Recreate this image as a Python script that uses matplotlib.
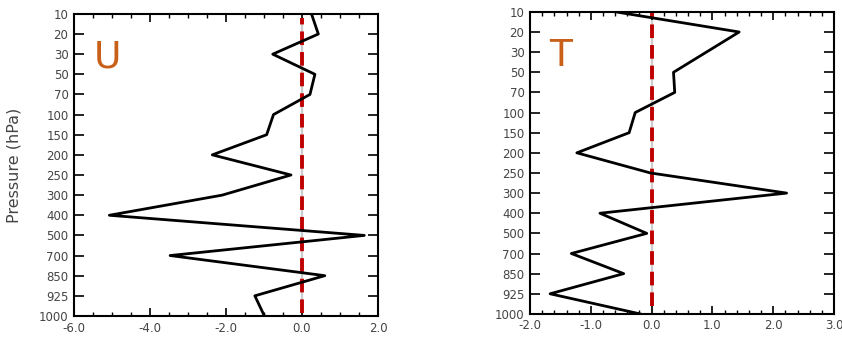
import numpy as np
import matplotlib
matplotlib.use('Agg')
import matplotlib.pyplot as plt
from matplotlib.ticker import MultipleLocator

# pressure levels (hPa), plotted on an evenly spaced index axis
levels = ['10', '20', '30', '50', '70', '100', '150', '200', '250', '300',
          '400', '500', '700', '850', '925', '1000']

# anomaly profiles
u_vals = [0.25, 0.43, -0.77, 0.34, 0.21, -0.75, -0.93, -2.36, -0.29, -2.1,
          -5.07, 1.64, -3.47, 0.6, -1.24, -0.99]
t_vals = [-0.59, 1.44, 0.9, 0.36, 0.38, -0.27, -0.37, -1.23, -0.02, 2.22,
          -0.85, -0.08, -1.32, -0.46, -1.67, -0.19]

tick_col = '#444444'
label_col = '#c8601a'


def draw_profile(ax, vals, xlim, xmajor, xminor, letter, dash_lim, letter_x):
    y = np.arange(len(levels))
    ax.axvline(0, color='#cccccc', lw=1.6, zorder=1)
    ax.axvline(0, color='#c00000', lw=2.8, dashes=(3.5, 1.8),
               ymin=dash_lim[0], ymax=dash_lim[1], zorder=2)
    ax.plot(vals, y, color='black', lw=2, zorder=3)
    ax.set_xlim(*xlim)
    ax.set_ylim(len(levels) - 1, 0)
    ax.set_yticks(y)
    ax.set_yticklabels(levels)
    ax.xaxis.set_major_locator(MultipleLocator(xmajor))
    ax.xaxis.set_minor_locator(MultipleLocator(xminor))
    ax.xaxis.set_major_formatter(plt.FormatStrFormatter('%.1f'))
    ax.tick_params(axis='x', which='major', direction='in', length=6,
                   width=1.2, top=True, bottom=True, labelsize=8.5,
                   labelcolor=tick_col, pad=4)
    ax.tick_params(axis='x', which='minor', direction='in', length=3,
                   width=1, top=True, bottom=True)
    ax.tick_params(axis='y', which='major', direction='in', length=7,
                   width=1.2, left=True, right=True, labelsize=8.5,
                   labelcolor=tick_col, pad=4)
    for s in ax.spines.values():
        s.set_linewidth(1.5)
    ax.text(letter_x, 0.915, letter, transform=ax.transAxes, color=label_col,
            fontsize=27, ha='left', va='top')


fig = plt.figure(figsize=(8.42, 3.39), dpi=100)
ax1 = fig.add_axes([0.0879, 0.068, 0.361, 0.891])
ax2 = fig.add_axes([0.6295, 0.074, 0.361, 0.891])

draw_profile(ax1, u_vals, (-6, 2), 2, 0.5, 'U', (0.01, 0.985), 0.065)
draw_profile(ax2, t_vals, (-2, 3), 1, 0.2, 'T', (0.025, 1.0), 0.062)

ax1.set_ylabel('Pressure (hPa)', color=tick_col, fontsize=11.5)
ax1.yaxis.set_label_coords(-0.172, 0.5)

fig.savefig('out.png', dpi=100)
